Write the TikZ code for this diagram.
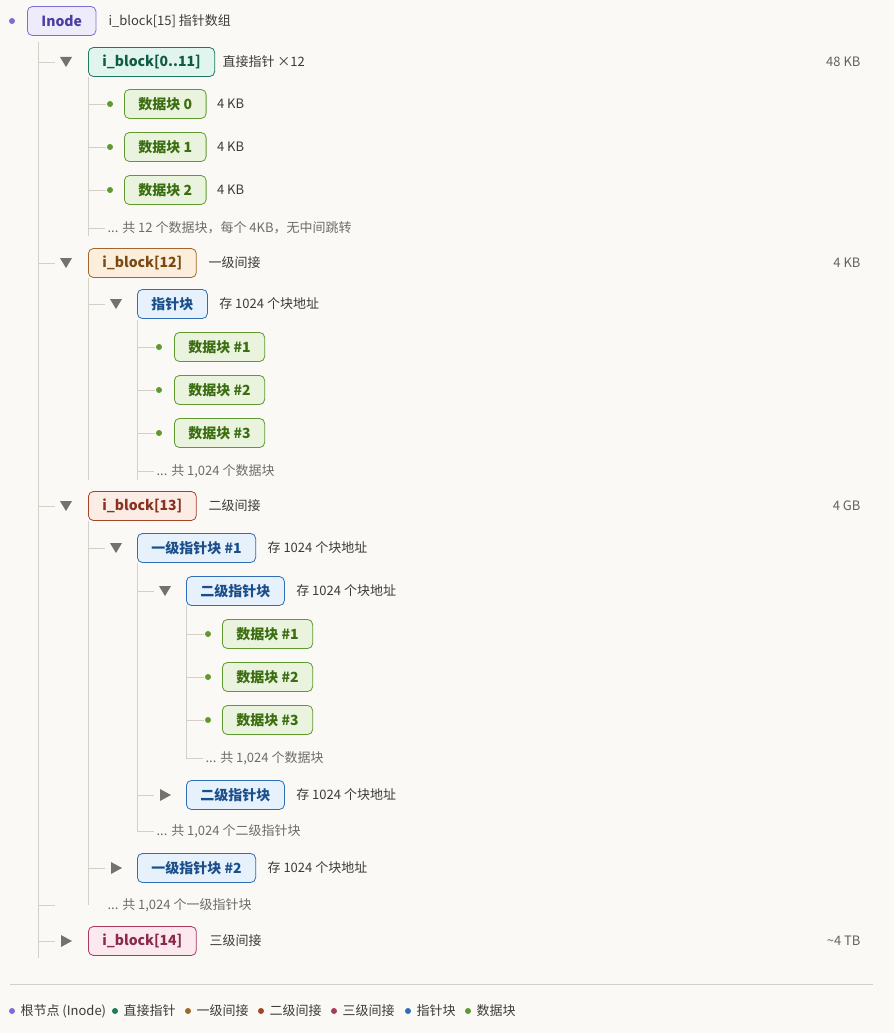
\documentclass[tikz,border=0pt]{standalone}
\usepackage{fontspec}
\setmainfont{Noto Sans CJK SC}
\definecolor{bg}{HTML}{FAF9F6}
\definecolor{rule}{HTML}{D3D0C8}
\definecolor{tri}{HTML}{75726C}
\definecolor{note}{HTML}{6F6C66}
\definecolor{side}{HTML}{3D3B37}
\definecolor{inF}{HTML}{EEEBFB}\definecolor{inD}{HTML}{7B6FD6}\definecolor{inT}{HTML}{4B3FA0}
\definecolor{drF}{HTML}{E1F5EE}\definecolor{drD}{HTML}{1D7A5F}\definecolor{drT}{HTML}{0F5C46}
\definecolor{s1F}{HTML}{FBEEDC}\definecolor{s1D}{HTML}{A0672A}\definecolor{s1T}{HTML}{7A4A12}
\definecolor{s2F}{HTML}{FBECE6}\definecolor{s2D}{HTML}{A5432A}\definecolor{s2T}{HTML}{8A3220}
\definecolor{s3F}{HTML}{FBE9EF}\definecolor{s3D}{HTML}{A8395F}\definecolor{s3T}{HTML}{8A2A4A}
\definecolor{ptF}{HTML}{E6F1FB}\definecolor{ptD}{HTML}{2F6DB5}\definecolor{ptT}{HTML}{1B4F8C}
\definecolor{daF}{HTML}{EAF3DE}\definecolor{daD}{HTML}{5E9A2E}\definecolor{daT}{HTML}{3B6D11}

\tikzset{
  blk/.style={draw, rounded corners=5pt, anchor=west, minimum height=29pt,
    inner xsep=14pt, font=\fontsize{14}{16}\selectfont\bfseries, line width=0.8pt},
  inode/.style={blk, fill=inF, draw=inD, text=inT},
  direct/.style={blk, fill=drF, draw=drD, text=drT},
  single/.style={blk, fill=s1F, draw=s1D, text=s1T},
  double/.style={blk, fill=s2F, draw=s2D, text=s2T},
  triple/.style={blk, fill=s3F, draw=s3D, text=s3T},
  ptr/.style={blk, fill=ptF, draw=ptD, text=ptT},
  data/.style={blk, fill=daF, draw=daD, text=daT},
  desc/.style={anchor=west, text=side, font=\fontsize{13}{15}\selectfont},
  size/.style={anchor=east, text=side!80, font=\fontsize{13}{15}\selectfont},
  more/.style={anchor=west, text=note, font=\fontsize{13}{15}\selectfont},
  trunk/.style={draw=rule, line width=0.8pt},
}
\newcommand{\dn}[2]{\fill[tri] (#1-6,#2-5) -- (#1+6,#2-5) -- (#1,#2+5) -- cycle;}
\newcommand{\rt}[2]{\fill[tri] (#1-5,#2-6) -- (#1-5,#2+6) -- (#1+6,#2) -- cycle;}

\begin{document}
\begin{tikzpicture}[x=1pt, y=-1pt]
	\fill[bg] (0,0) rectangle (894,1033);
	\useasboundingbox (0,0) rectangle (894,1033);

	% root
	\fill[inD] (12,21) circle (3);
	\node[inode] (inode) at (27,21) {Inode};
	\node[desc] at (105,21) {i\_block[15] 指针数组};

	% first level
	\node[direct] (b0) at (88,62) {i\_block[0..11]};
	\node[desc] at (219,62) {直接指针 ×12};
	\node[size] at (864,62) {48 KB};
	\node[single] (b12) at (88,263) {i\_block[12]};
	\node[desc] at (205,263) {一级间接};
	\node[size] at (864,263) {4 KB};
	\node[double] (b13) at (88,506) {i\_block[13]};
	\node[desc] at (205,506) {二级间接};
	\node[size] at (864,506) {4 GB};
	\node[triple] (b14) at (88,941) {i\_block[14]};
	\node[desc] at (206,941) {三级间接};
	\node[size] at (864,941) {\textasciitilde4 TB};

	\coordinate (r0) at (38,42);
	\coordinate (r1) at (38,958);
	\draw[trunk] (r0) -- (r1);
	\foreach \y in {62,263,506,941} \draw[trunk] (38,\y) -- (55,\y);
	\dn{66}{62} \dn{66}{263} \dn{66}{506} \rt{66}{941}
	\draw[trunk] (38,905) -- (55,905);
	\node[more] at (104,905) {... 共 1,024 个一级指针块};

	% direct blocks
	\draw[trunk] (88,77) -- (88,236);
	\foreach \y/\t in {104/0,147/1,190/2} {
		\draw[trunk] (88,\y) -- (106,\y);
		\fill[daD] (110,\y) circle (3);
		\node[data] (d\t) at (124,\y) {数据块 \t};
		\node[desc] at (d\t.east) [xshift=7pt] {4 KB};
	}
	\draw[trunk] (88,228) -- (105,228);
	\node[more] at (104,228) {... 共 12 个数据块，每个 4KB，无中间跳转};

	% single indirect
	\draw[trunk] (88,278) -- (88,480);
	\draw[trunk] (88,304) -- (105,304);
	\dn{116}{304}
	\node[ptr] (p1) at (137,304) {指针块};
	\node[desc] at (p1.east) [xshift=8pt] {存 1024 个块地址};
	\draw[trunk] (137,320) -- (137,480);
	\foreach \y/\t in {347/1,390/2,433/3} {
		\draw[trunk] (137,\y) -- (155,\y);
		\fill[daD] (159,\y) circle (3);
		\node[data] (sa\t) at (174,\y) {数据块 \#\t};
	}
	\draw[trunk] (137,471) -- (154,471);
	\node[more] at (153,471) {... 共 1,024 个数据块};

	% double indirect
	\draw[trunk] (88,521) -- (88,905);
	\draw[trunk] (88,548) -- (105,548);
	\dn{116}{548}
	\node[ptr] (q1) at (137,548) {一级指针块 \#1};
	\node[desc] at (q1.east) [xshift=8pt] {存 1024 个块地址};
	\draw[trunk] (137,563) -- (137,832);
	\draw[trunk] (137,591) -- (154,591);
	\dn{165}{591}
	\node[ptr] (q11) at (186,591) {二级指针块};
	\node[desc] at (q11.east) [xshift=8pt] {存 1024 个块地址};
	\draw[trunk] (186,606) -- (186,758);
	\foreach \y/\t in {634/1,677/2,720/3} {
		\draw[trunk] (186,\y) -- (204,\y);
		\fill[daD] (208,\y) circle (3);
		\node[data] (da\t) at (222,\y) {数据块 \#\t};
	}
	\draw[trunk] (186,758) -- (203,758);
	\node[more] at (202,758) {... 共 1,024 个数据块};
	\draw[trunk] (137,795) -- (154,795);
	\rt{165}{795}
	\node[ptr] (q12) at (186,795) {二级指针块};
	\node[desc] at (q12.east) [xshift=8pt] {存 1024 个块地址};
	\draw[trunk] (137,831) -- (154,831);
	\node[more] at (153,831) {... 共 1,024 个二级指针块};
	\draw[trunk] (88,868) -- (105,868);
	\rt{116}{868}
	\node[ptr] (q2) at (137,868) {一级指针块 \#2};
	\node[desc] at (q2.east) [xshift=8pt] {存 1024 个块地址};

	% legend
	\draw[draw=rule, line width=1pt] (10,984) -- (873,984);
	\foreach \c/\t [count=\i] in {inD/根节点 (Inode),drD/直接指针,s1D/一级间接,s2D/二级间接,s3D/三级间接,ptD/指针块,daD/数据块} {
		\coordinate (lg\i) at (0,0);
	}
	\fill[inD] (12,1011) circle (3);   \node[desc] at (17,1011) {根节点 (Inode)};
	\fill[drD] (115,1011) circle (3);  \node[desc] at (120,1011) {直接指针};
	\fill[s1D] (188,1011) circle (3);  \node[desc] at (193,1011) {一级间接};
	\fill[s2D] (261,1011) circle (3);  \node[desc] at (266,1011) {二级间接};
	\fill[s3D] (334,1011) circle (3);  \node[desc] at (339,1011) {三级间接};
	\fill[ptD] (408,1011) circle (3);  \node[desc] at (413,1011) {指针块};
	\fill[daD] (468,1011) circle (3);  \node[desc] at (473,1011) {数据块};
\end{tikzpicture}
\end{document}
